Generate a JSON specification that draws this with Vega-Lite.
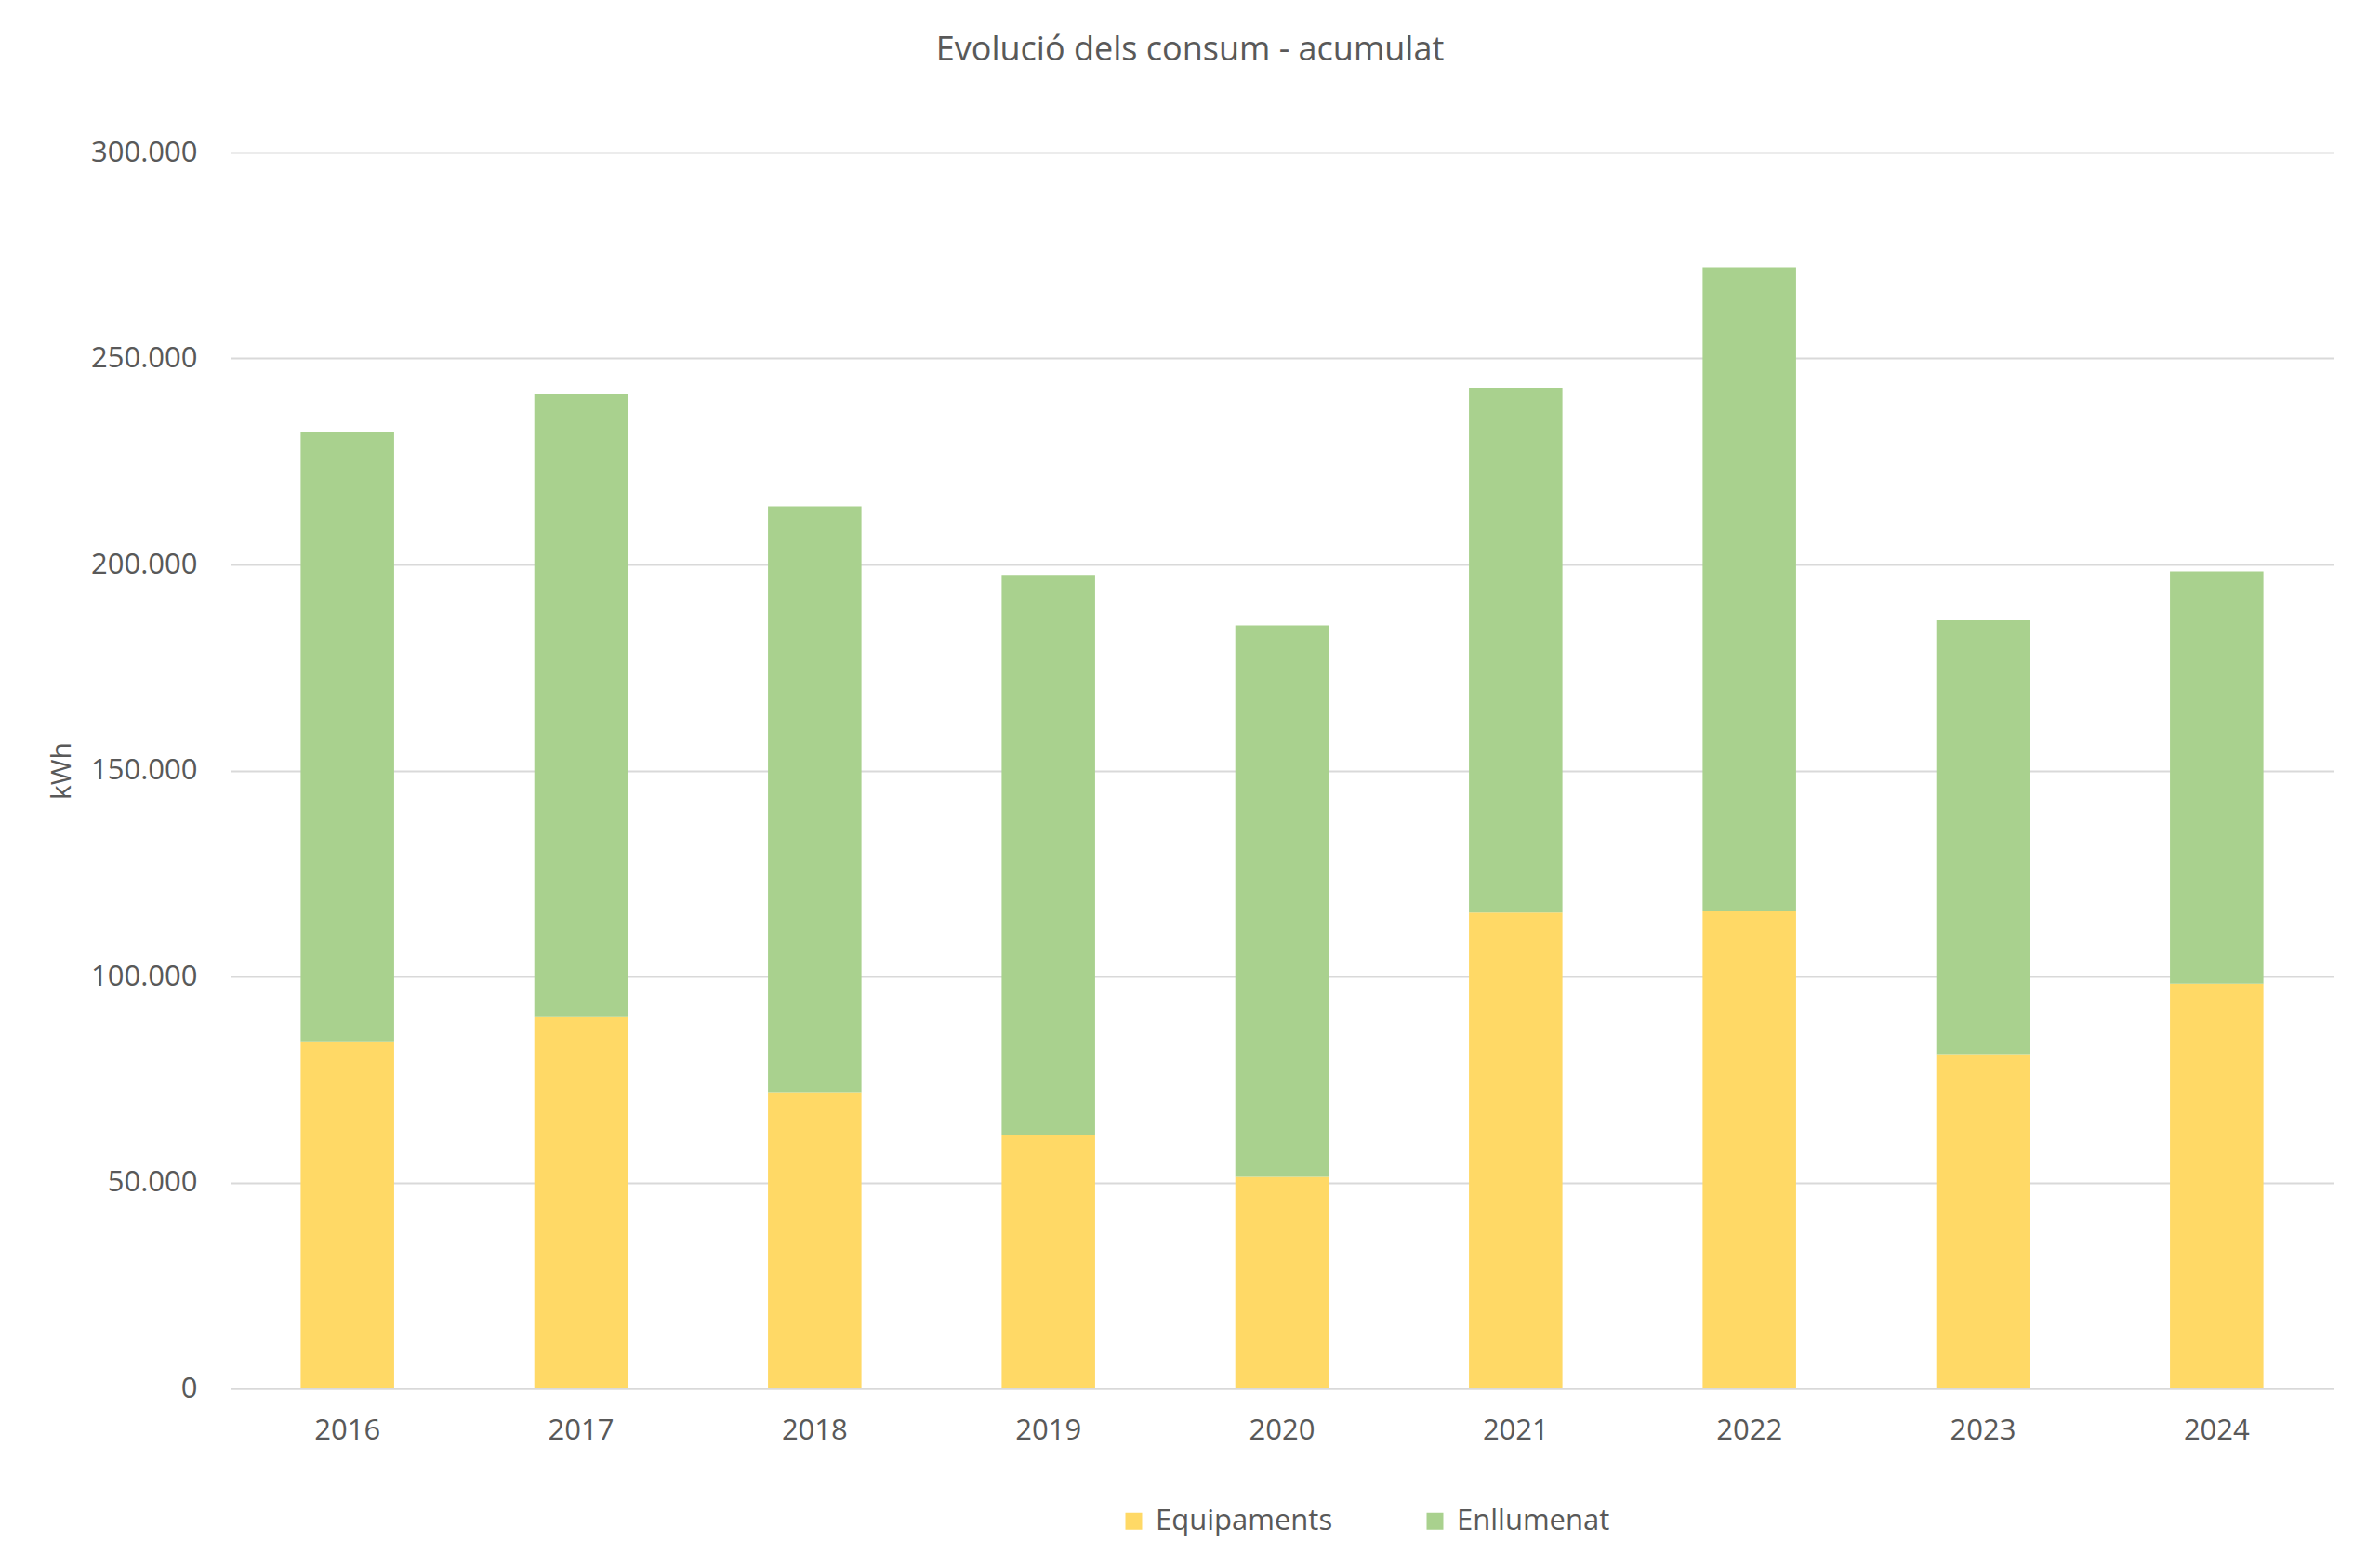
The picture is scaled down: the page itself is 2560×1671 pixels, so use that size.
{
  "$schema": "https://vega.github.io/schema/vega-lite/v6.json",
  "width": 2262,
  "height": 1329,
  "autosize": {"type": "none"},
  "padding": {"left": 248, "top": 164, "right": 50, "bottom": 178},
  "background": "white",
  "title": {
    "text": "Evolució dels consum - acumulat",
    "anchor": "middle",
    "frame": "group",
    "dx": -99,
    "offset": 75,
    "fontSize": 36,
    "fontWeight": "normal",
    "font": "Open Sans",
    "color": "#595959"
  },
  "data": {
    "values": [
      {"any": "2016", "serie": "Equipaments", "kwh": 84250},
      {"any": "2016", "serie": "Enllumenat", "kwh": 147950},
      {"any": "2017", "serie": "Equipaments", "kwh": 90100},
      {"any": "2017", "serie": "Enllumenat", "kwh": 151200},
      {"any": "2018", "serie": "Equipaments", "kwh": 71900},
      {"any": "2018", "serie": "Enllumenat", "kwh": 142200},
      {"any": "2019", "serie": "Equipaments", "kwh": 61600},
      {"any": "2019", "serie": "Enllumenat", "kwh": 135850},
      {"any": "2020", "serie": "Equipaments", "kwh": 51350},
      {"any": "2020", "serie": "Enllumenat", "kwh": 133880},
      {"any": "2021", "serie": "Equipaments", "kwh": 115500},
      {"any": "2021", "serie": "Enllumenat", "kwh": 127400},
      {"any": "2022", "serie": "Equipaments", "kwh": 115800},
      {"any": "2022", "serie": "Enllumenat", "kwh": 156350},
      {"any": "2023", "serie": "Equipaments", "kwh": 81170},
      {"any": "2023", "serie": "Enllumenat", "kwh": 105280},
      {"any": "2024", "serie": "Equipaments", "kwh": 98270},
      {"any": "2024", "serie": "Enllumenat", "kwh": 100030}
    ]
  },
  "mark": {"type": "bar"},
  "encoding": {
    "x": {
      "field": "any",
      "type": "ordinal",
      "scale": {"paddingInner": 0.6, "paddingOuter": 0.3},
      "axis": {
        "title": null,
        "labelAngle": 0,
        "labelFontSize": 31,
        "labelFont": "Open Sans",
        "labelColor": "#595959",
        "labelPadding": 30,
        "ticks": false,
        "domainColor": "#d9d9d9",
        "domainWidth": 2
      }
    },
    "y": {
      "field": "kwh",
      "type": "quantitative",
      "stack": "zero",
      "scale": {"domain": [0, 300000], "nice": false},
      "axis": {
        "title": "kWh",
        "titleFontSize": 30,
        "titleFont": "Open Sans",
        "titleFontWeight": "normal",
        "titleColor": "#595959",
        "titlePadding": 16,
        "values": [0, 50000, 100000, 150000, 200000, 250000, 300000],
        "format": ",d",
        "labelFontSize": 31,
        "labelFont": "Open Sans",
        "labelColor": "#595959",
        "labelPadding": 36,
        "ticks": false,
        "domain": false,
        "grid": true,
        "gridColor": "#d9d9d9",
        "gridWidth": 2
      }
    },
    "color": {
      "field": "serie",
      "type": "nominal",
      "scale": {"domain": ["Equipaments", "Enllumenat"], "range": ["#FFD966", "#A9D18E"]},
      "legend": {
        "title": null,
        "orient": "none",
        "direction": "horizontal",
        "legendX": 956,
        "legendY": 1456,
        "symbolType": "square",
        "symbolSize": 324,
        "symbolStrokeWidth": 0,
        "labelFontSize": 31,
        "labelFont": "Open Sans",
        "labelColor": "#595959",
        "labelOffset": 8,
        "labelLimit": 0,
        "columnPadding": 94
      }
    },
    "order": {"field": "serie", "sort": "descending"}
  },
  "config": {
    "locale": {
      "number": {"decimal": ",", "thousands": ".", "grouping": [3], "currency": ["", " €"]}
    },
    "view": {"stroke": null}
  }
}
